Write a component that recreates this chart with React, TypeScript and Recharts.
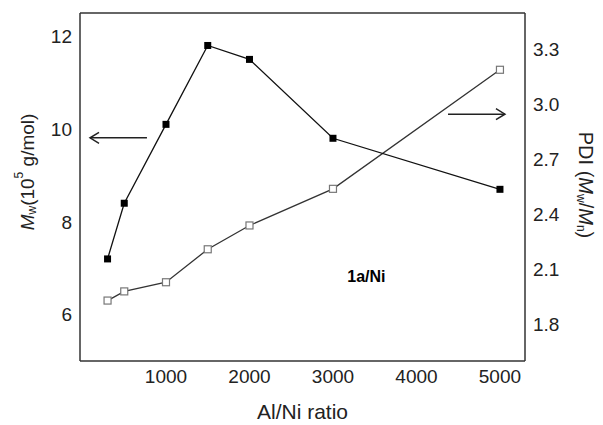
import React from "react";
import { LineChart, Line, XAxis, YAxis, ReferenceLine, ReferenceDot } from "recharts";

const ratios = [300, 500, 1000, 1500, 2000, 3000, 5000];
const mwValues = [7.2, 8.4, 10.1, 11.8, 11.5, 9.8, 8.7];
const pdiValues = [1.93, 1.98, 2.03, 2.21, 2.34, 2.54, 3.19];

const xTicks = [1000, 2000, 3000, 4000, 5000];
const mwTicks = [6, 8, 10, 12];
const pdiTicks = [1.8, 2.1, 2.4, 2.7, 3.0, 3.3];

const data = ratios.map((r, i) => ({ ratio: r, mw: mwValues[i], pdi: pdiValues[i] }));

const FONT = "'Liberation Sans', Arial, sans-serif";
const INK = "#222";

function FilledSquare(props: any) {
  const { cx, cy } = props;
  if (cx == null || cy == null) return null;
  return <rect x={cx - 3.5} y={cy - 3.5} width={7} height={7} fill="#000" />;
}

function OpenSquare(props: any) {
  const { cx, cy } = props;
  if (cx == null || cy == null) return null;
  return <rect x={cx - 3.5} y={cy - 3.5} width={7} height={7} fill="#fff" stroke="#777" strokeWidth={1.2} />;
}

function Arrow(props: any) {
  const { x1, y1, x2, y2 } = props;
  if (x1 == null) return null;
  const dir = x2 > x1 ? 1 : -1;
  const h = 9;
  return (
    <g stroke={INK} strokeWidth={1.5} fill="none">
      <line x1={x1} y1={y1} x2={x2} y2={y2} />
      <polyline points={`${x2 - dir * h},${y2 - 5.5} ${x2},${y2} ${x2 - dir * h},${y2 + 5.5}`} />
    </g>
  );
}

function MwLabel() {
  const x = 27;
  const y = 172;
  return (
    <text x={x} y={y} transform={`rotate(-90 ${x} ${y})`} textAnchor="middle" dominantBaseline="central"
      fontFamily={FONT} fontSize={19} fill={INK}>
      <tspan fontStyle="italic">M</tspan>
      <tspan fontSize={12} dy={5}>w</tspan>
      <tspan dy={-5}>(10</tspan>
      <tspan fontSize={12} dy={-8}>5</tspan>
      <tspan dy={8}> g/mol)</tspan>
    </text>
  );
}

function PdiLabel() {
  const x = 586;
  const y = 185;
  return (
    <text x={x} y={y} transform={`rotate(90 ${x} ${y})`} textAnchor="middle" dominantBaseline="central"
      fontFamily={FONT} fontSize={20} fill={INK}>
      <tspan>PDI (</tspan>
      <tspan fontStyle="italic">M</tspan>
      <tspan fontSize={12} dy={5}>w</tspan>
      <tspan dy={-5}>/</tspan>
      <tspan fontStyle="italic">M</tspan>
      <tspan fontSize={12} dy={5}>n</tspan>
      <tspan dy={-5}>)</tspan>
    </text>
  );
}

const tickStyle = { fill: INK, fontSize: 19, fontFamily: FONT };
const axisLine = { stroke: "#333", strokeWidth: 1.5 };

export default function App() {
  return (
    <div style={{ position: "fixed", left: 0, top: 0, width: 603, height: 425, background: "#fff" }}>
      <LineChart width={603} height={425} data={data} margin={{ top: 13, right: 0, bottom: 0, left: 0 }}>
        <XAxis
          dataKey="ratio"
          type="number"
          domain={[-30, 5300]}
          ticks={xTicks}
          tickLine={false}
          axisLine={axisLine}
          tick={tickStyle}
          tickMargin={3}
          height={64}
          label={{ value: "Al/Ni ratio", position: "insideBottom", offset: 6, fill: INK, fontSize: 21, fontFamily: FONT }}
        />
        <YAxis
          yAxisId="mw"
          type="number"
          domain={[5, 12.5]}
          ticks={mwTicks}
          width={80}
          tickLine={false}
          axisLine={axisLine}
          tick={tickStyle}
          label={{ content: () => <MwLabel /> }}
        />
        <YAxis
          yAxisId="pdi"
          orientation="right"
          type="number"
          domain={[1.6, 3.5]}
          ticks={pdiTicks}
          width={78}
          tickLine={false}
          axisLine={axisLine}
          tick={tickStyle}
          tickFormatter={(v: number) => v.toFixed(1)}
          label={{ content: () => <PdiLabel /> }}
        />
        <ReferenceLine yAxisId="mw" y={12.5} stroke="#333" strokeWidth={1.5} />
        <Line yAxisId="pdi" dataKey="pdi" stroke="#333" strokeWidth={1.3} dot={<OpenSquare />}
          activeDot={false} isAnimationActive={false} />
        <Line yAxisId="mw" dataKey="mw" stroke="#111" strokeWidth={1.3} dot={<FilledSquare />}
          activeDot={false} isAnimationActive={false} />
        <ReferenceLine yAxisId="mw" segment={[{ x: 772, y: 9.81 }, { x: 90, y: 9.81 }]} shape={Arrow} />
        <ReferenceLine yAxisId="mw" segment={[{ x: 4378, y: 10.32 }, { x: 5060, y: 10.32 }]} shape={Arrow} />
        <ReferenceDot yAxisId="mw" x={3400} y={6.83} r={0} fill="none" stroke="none"
          label={{ value: "1a/Ni", position: "center", fill: "#000", fontSize: 16, fontWeight: "bold", fontFamily: FONT }} />
      </LineChart>
    </div>
  );
}
